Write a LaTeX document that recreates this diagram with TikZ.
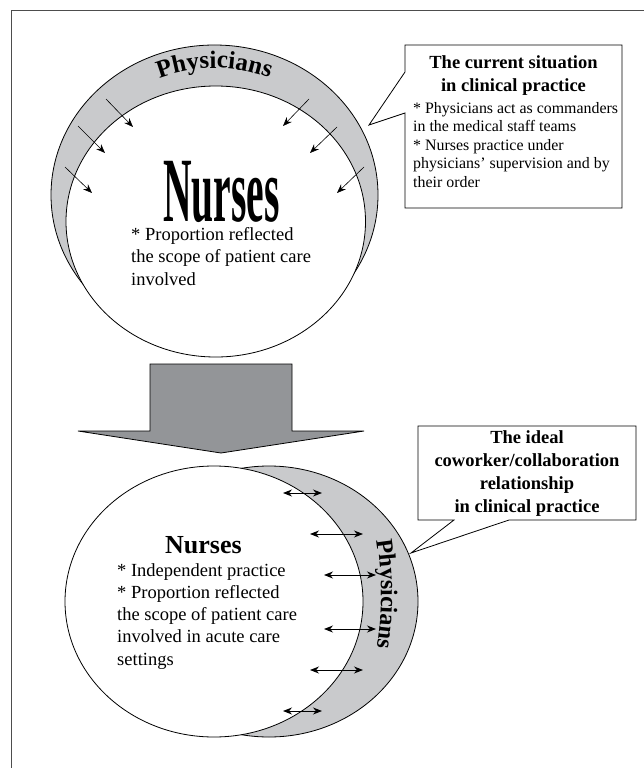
\documentclass[tikz,border=0pt]{standalone}
\usepackage{fontspec}
\usepackage{graphicx}
\setmainfont{Liberation Serif}
\usetikzlibrary{shapes.geometric,decorations.text,arrows.meta}

\definecolor{crescentgray}{HTML}{C9CACC}
\definecolor{arrowgray}{HTML}{939598}
\definecolor{framegray}{HTML}{4D4D4D}

\newcommand{\physfont}{\bfseries\fontsize{25}{25}\selectfont}
\newcommand{\physfontsmall}{\bfseries\fontsize{24}{24}\selectfont}

\tikzset{
	ring/.style={ellipse, draw, line width=0.8pt, inner sep=0pt},
	bodytext/.style={align=left, inner sep=0pt, anchor=base west, font=\fontsize{18.5}{22.2}\selectfont},
	headtext/.style={align=center, inner sep=0pt, anchor=base, font=\bfseries\fontsize{18.5}{22.8}\selectfont},
	pushes/.style={-{Stealth[length=9pt,width=7pt]}, line width=0.6pt},
	shares/.style={{Stealth[length=9pt,width=7pt]}-{Stealth[length=9pt,width=7pt]}, line width=0.9pt},
	callout/.style={draw, line width=0.8pt, fill=white},
}

\begin{document}
\begin{tikzpicture}[x=1pt, y=1pt]
	\useasboundingbox (0,0) rectangle (644,-768);
	\draw[framegray, line width=1pt] (11,-768) |- (644,-11);
	
	% current situation
	\node[ring, fill=crescentgray, minimum width=327, minimum height=300] (docs) at (214.5,-195) {};
	\node[ring, fill=white, minimum width=299.5, minimum height=271] (nurses) at (215.75,-221.5) {};
	\path[decorate, decoration={text along path, text align=center, text={|\physfont|Physicians}}]
		(214.5,-195) ++(150:140 and 127) arc[start angle=150, end angle=30, x radius=140, y radius=127];
	
	\foreach \sx/\sy/\ex/\ey in {106/99/133/127, 78/126/105/153, 65/167/92/193, 309/99/283/126, 337/127/310/153, 364/167/337/193}
	{
		\draw[pushes] (\sx,-\sy) -- (\ex,-\ey);
	}
	
	\node[anchor=base, inner sep=0pt] (nursesword) at (221.5,-221) {\scalebox{0.43}[1]{\bfseries\fontsize{92}{92}\selectfont Nurses}};
	% multi-line nodes sit on their last baseline
	\node[bodytext] (scope) at (131,-285) {* Proportion reflected\\the scope of patient care\\involved};
	
	\coordinate (nowtip) at (369,-125);
	\draw[callout] (405,-45) -- (622,-45) -- (622,-208) -- (405,-208) -- (405,-113) -- (nowtip) -- (405,-72) -- cycle;
	\node[headtext] (nowtitle) at (513.5,-91) {The current situation\\in clinical practice};
	\node[bodytext, font=\fontsize{15.9}{18.5}\selectfont] (nowbody) at (413,-187) {* Physicians act as commanders\\in the medical staff teams\\* Nurses practice under\\physicians' supervision and by\\their order};
	
	% change
	\draw[line width=0.8pt, fill=arrowgray] (150,-364) -- (292,-364) -- (292,-431) -- (364,-431) -- (221,-453) -- (78,-431) -- (150,-431) -- cycle;
	
	% ideal relationship
	\node[ring, fill=crescentgray, minimum width=298, minimum height=271] (docsnext) at (269,-601.5) {};
	\node[ring, fill=white, minimum width=298, minimum height=271] (nursesnext) at (214,-601.5) {};
	\path[decorate, decoration={text along path, text align=center, text={|\physfontsmall|Physicians}}]
		(269,-594) ++(22:112 and 200) arc[start angle=22, end angle=-22, x radius=112, y radius=200];
	
	\foreach \xa/\xb/\yy in {283/322/493, 310/363/534, 324/376/575, 324/376/629, 310/363/670, 283/322/711}
	{
		\draw[shares] (\xa,-\yy) -- (\xb,-\yy);
	}
	
	\node[anchor=base, inner sep=0pt, font=\bfseries\fontsize{26}{26}\selectfont] (nursesnextword) at (203.5,-553) {Nurses};
	\node[bodytext] (independent) at (117,-665) {* Independent practice\\* Proportion reflected\\the scope of patient care\\involved in acute care\\settings};
	
	\coordinate (idealtip) at (411,-553);
	\draw[callout] (418,-426) -- (636,-426) -- (636,-520) -- (509,-520) -- (idealtip) -- (454,-520) -- (418,-520) -- cycle;
	\node[headtext] (idealtitle) at (527,-512) {The ideal\\coworker/collaboration\\relationship\\in clinical practice};
\end{tikzpicture}
\end{document}
